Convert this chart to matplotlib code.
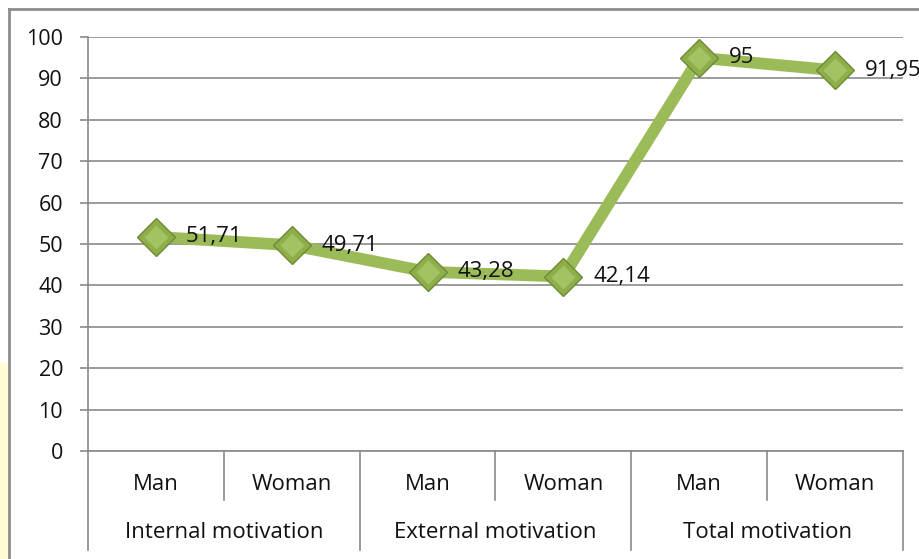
import matplotlib.pyplot as plt
from matplotlib.lines import Line2D
from matplotlib.patches import Rectangle

# data
genders = ['Man', 'Woman', 'Man', 'Woman', 'Man', 'Woman']
groups = ['Internal motivation', 'External motivation', 'Total motivation']
values = [51.71, 49.71, 43.28, 42.14, 95, 91.95]
value_labels = ['51,71', '49,71', '43,28', '42,14', '95', '91,95']
yticks = [0, 10, 20, 30, 40, 50, 60, 70, 80, 90, 100]

plt.rcParams['font.family'] = ['Open Sans', 'DejaVu Sans']
W, H = 919, 559
fig = plt.figure(figsize=(W / 100, H / 100), dpi=100)
ax = fig.add_axes([88 / W, 1 - 451 / H, (903 - 88) / W, (451 - 37) / H])

grid_c = '#8a8a8a'
txt_c = '#111111'
x = list(range(len(values)))

ax.plot(x, values, color='#9BBB59', lw=8.5, solid_capstyle='butt', zorder=3)
ax.plot(x, values, linestyle='none', marker='D', ms=19, mfc='#8DAE48',
        mec='#6E8A33', mew=1, zorder=4)
ax.plot(x, values, linestyle='none', marker='D', ms=12, mfc='#A3C263',
        mec='none', zorder=5)
for xi, v, s in zip(x, values, value_labels):
    ax.annotate(s, (xi, v), xytext=(30, 0), textcoords='offset pixels',
                ha='left', va='center', fontsize=16, color=txt_c, zorder=6)

ax.set_xlim(-0.5, len(values) - 0.5)
ax.set_ylim(0, 100)
ax.set_yticks(yticks)
ax.yaxis.grid(True, color=grid_c, lw=1.2)
ax.set_axisbelow(True)
ax.tick_params(axis='y', length=6, width=1.2, color=grid_c, pad=12,
               labelsize=15.5, labelcolor=txt_c)
ax.set_xticks([])
for side in ['top', 'right']:
    ax.spines[side].set_visible(False)
ax.spines['left'].set_color(grid_c)
ax.spines['left'].set_linewidth(1.2)
ax.spines['bottom'].set_color(grid_c)
ax.spines['bottom'].set_linewidth(1.2)

# multi-level category axis
tr = ax.get_xaxis_transform()
for i in range(len(values) + 1):
    bottom = -0.239 if i % 2 == 0 else -0.118
    ax.add_line(Line2D([i - 0.5, i - 0.5], [0, bottom], transform=tr,
                       color=grid_c, lw=1.2, clip_on=False))
for xi, g in zip(x, genders):
    ax.text(xi, -0.08, g, transform=tr, ha='center', va='center',
            fontsize=16, color=txt_c)
for gi, g in enumerate(groups):
    ax.text(2 * gi + 0.5, -0.198, g, transform=tr, ha='center', va='center',
            fontsize=16, color=txt_c)

# outer frame and the yellow strip at the left
fig.patches.append(Rectangle((0, 0), 8 / W, (H - 363) / H, transform=fig.transFigure,
                             color='#FFFCD6', zorder=0))
fig.lines.append(Line2D([9 / W, 1], [1 - 9 / H, 1 - 9 / H], transform=fig.transFigure,
                        color='#8c8c8c', lw=2))
fig.lines.append(Line2D([9 / W, 9 / W], [0, 1 - 9 / H], transform=fig.transFigure,
                        color='#8c8c8c', lw=2))

fig.savefig('out.png', dpi=100)
